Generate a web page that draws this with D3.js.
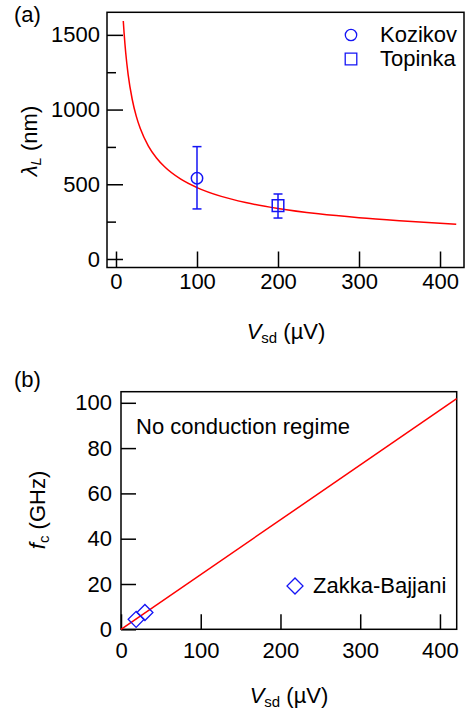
<!DOCTYPE html>
<html>
<head>
<meta charset="utf-8">
<script src="https://cdn.jsdelivr.net/npm/d3@7"></script>
<style>
    body { margin: 0; background: #fff; }
    svg { display: block; font-family: "Liberation Sans", Arial, sans-serif; }
</style>
</head>
<body>
<svg id="chart" width="466" height="712"></svg>
<script>
//
// ***********************************************************************************
//                      DATA
//
// ***********************************************************************************
//

// Shared x ticks (Vsd, µV).
const vsdTicks = [0, 100, 200, 300, 400];

// Panel (a): λL vs Vsd.
const lambdaTicks = [0, 500, 1000, 1500];
const lambdaMinorTicks = [250, 750, 1250];

const fitVsd    = [9, 10, 12, 15, 20, 25, 30, 40, 50, 60, 80, 100, 130, 160, 200, 250, 300, 350, 420];
const fitLambda = [1593, 1512, 1380, 1234, 1069, 956, 873, 756, 676, 617, 534, 478, 419, 378, 338, 302, 276, 256, 233];

const kozikovVsd    = [100];
const kozikovLambda = [540];
const kozikovLow    = [335];
const kozikovHigh   = [752];

const topinkaVsd    = [200];
const topinkaLambda = [357];
const topinkaLow    = [274];
const topinkaHigh   = [435];

// Panel (b): fc vs Vsd.
const freqTicks = [0, 20, 40, 60, 80, 100];

const lineVsd  = [0, 421];
const lineFreq = [0, 101.8];

const zakkaVsd  = [19, 30];
const zakkaFreq = [4.4, 7.4];

//
// ***********************************************************************************
//                      SETUP
//
// ***********************************************************************************
//

const RED = "#ff0000";
const BLUE = "#1515f5";
const FONT = 22;
const SUB = 15;

const svg = d3.select("#chart");

function styleAxis(g) {
    g.select(".domain").remove();
    g.selectAll(".tick line").attr("stroke", "#000").attr("stroke-width", 1.5);
    g.selectAll(".tick text").attr("fill", "#000").attr("font-size", FONT);
}

function frame(x, y) {
    svg.append("rect")
        .attr("x", x.range()[0])
        .attr("y", y.range()[1])
        .attr("width", x.range()[1] - x.range()[0])
        .attr("height", y.range()[0] - y.range()[1])
        .attr("fill", "none")
        .attr("stroke", "#000")
        .attr("stroke-width", 1.5);
}

function xTitle(cx, baseline) {
    const t = svg.append("text")
        .attr("x", cx).attr("y", baseline)
        .attr("text-anchor", "middle")
        .attr("font-size", FONT);
    t.append("tspan").attr("font-style", "italic").text("V");
    t.append("tspan").attr("font-size", SUB).attr("dy", 4).text("sd");
    t.append("tspan").attr("dy", -4).text(" (µV)");
}

//
// ***********************************************************************************
//                      PANEL (a)
//
// ***********************************************************************************
//

const xA = d3.scaleLinear().domain([-11.1, 429.6]).range([107, 464]);
const yA = d3.scaleLinear().domain([-57, 1651]).range([267.5, 12.3]);

svg.append("text").attr("x", 14).attr("y", 22).attr("font-size", FONT).text("(a)");

svg.append("g")
    .attr("transform", `translate(0,${yA.range()[0]})`)
    .call(d3.axisBottom(xA).tickValues(vsdTicks).tickFormat(d3.format("d")).tickSize(-16).tickPadding(6))
    .call(styleAxis);

svg.append("g")
    .attr("transform", `translate(${xA.range()[0]},0)`)
    .call(d3.axisLeft(yA).tickValues(lambdaTicks).tickFormat(d3.format("d")).tickSize(-16).tickPadding(7))
    .call(styleAxis);

svg.append("g")
    .attr("transform", `translate(${xA.range()[0]},0)`)
    .call(d3.axisLeft(yA).tickValues(lambdaMinorTicks).tickFormat("").tickSize(-9))
    .call(styleAxis);

frame(xA, yA);

// Fit curve.
svg.append("path")
    .datum(d3.zip(fitVsd, fitLambda))
    .attr("fill", "none")
    .attr("stroke", RED)
    .attr("stroke-width", 1.5)
    .attr("d", d3.line().x(d => xA(d[0])).y(d => yA(d[1])).curve(d3.curveMonotoneX));

// Error bars + markers.
function errorPoints(vs, vals, lows, highs, symbolType, size, capW) {
    vs.forEach((v, i) => {
        const g = svg.append("g").attr("stroke", BLUE).attr("stroke-width", 1.5).attr("fill", "none");
        g.append("line").attr("x1", xA(v)).attr("x2", xA(v)).attr("y1", yA(lows[i])).attr("y2", yA(highs[i]));
        [lows[i], highs[i]].forEach(e => {
            g.append("line").attr("x1", xA(v) - capW).attr("x2", xA(v) + capW).attr("y1", yA(e)).attr("y2", yA(e));
        });
        g.append("path")
            .attr("transform", `translate(${xA(v)},${yA(vals[i])})`)
            .attr("d", d3.symbol().type(symbolType).size(size)());
    });
}

errorPoints(kozikovVsd, kozikovLambda, kozikovLow, kozikovHigh, d3.symbolCircle, 102, 4.5);
errorPoints(topinkaVsd, topinkaLambda, topinkaLow, topinkaHigh, d3.symbolSquare, 134, 4.5);

// Legend.
const legendA = [
    { label: "Kozikov", type: d3.symbolCircle, size: 102 },
    { label: "Topinka", type: d3.symbolSquare, size: 134 }
];
legendA.forEach((d, i) => {
    svg.append("path")
        .attr("transform", `translate(351,${35 + i * 24})`)
        .attr("d", d3.symbol().type(d.type).size(d.size)())
        .attr("fill", "none").attr("stroke", BLUE).attr("stroke-width", 1.3);
    svg.append("text")
        .attr("x", 380).attr("y", 42 + i * 24)
        .attr("font-size", FONT)
        .text(d.label);
});

// Axis titles.
xTitle(286, 339);

const yTitleA = svg.append("text")
    .attr("transform", "translate(37,141) rotate(-90)")
    .attr("text-anchor", "middle")
    .attr("font-size", FONT);
yTitleA.append("tspan").attr("font-style", "italic").text("λ");
yTitleA.append("tspan").attr("font-style", "italic").attr("font-size", SUB).attr("dy", 4).text("L");
yTitleA.append("tspan").attr("dy", -4).text(" (nm)");

//
// ***********************************************************************************
//                      PANEL (b)
//
// ***********************************************************************************
//

const xB = d3.scaleLinear().domain([0, 421]).range([121, 456.7]);
const yB = d3.scaleLinear().domain([0, 104.9]).range([629.3, 391.7]);

svg.append("text").attr("x", 14).attr("y", 387).attr("font-size", FONT).text("(b)");

svg.append("g")
    .attr("transform", `translate(0,${yB.range()[0]})`)
    .call(d3.axisBottom(xB).tickValues(vsdTicks).tickFormat(d3.format("d")).tickSize(-15).tickPadding(13))
    .call(styleAxis);

svg.append("g")
    .attr("transform", `translate(${xB.range()[0]},0)`)
    .call(d3.axisLeft(yB).tickValues(freqTicks).tickFormat(d3.format("d")).tickSize(-15).tickPadding(9))
    .call(styleAxis);

frame(xB, yB);

svg.append("path")
    .datum(d3.zip(lineVsd, lineFreq))
    .attr("fill", "none")
    .attr("stroke", RED)
    .attr("stroke-width", 1.5)
    .attr("d", d3.line().x(d => xB(d[0])).y(d => yB(d[1])));

const diamond = d3.symbol().type(d3.symbolSquare).size(128)();

svg.append("g")
    .selectAll("path")
    .data(d3.zip(zakkaVsd, zakkaFreq))
    .join("path")
    .attr("transform", d => `translate(${xB(d[0])},${yB(d[1])}) rotate(45)`)
    .attr("d", diamond)
    .attr("fill", "none").attr("stroke", BLUE).attr("stroke-width", 1.3);

// Legend + annotation.
svg.append("path")
    .attr("transform", "translate(295,586) rotate(45)")
    .attr("d", diamond)
    .attr("fill", "none").attr("stroke", BLUE).attr("stroke-width", 1.3);
svg.append("text").attr("x", 313).attr("y", 593).attr("font-size", FONT).text("Zakka-Bajjani");

svg.append("text").attr("x", 136).attr("y", 434).attr("font-size", FONT).text("No conduction regime");

// Axis titles.
xTitle(289, 703);

const yTitleB = svg.append("text")
    .attr("transform", "translate(45,510) rotate(-90)")
    .attr("text-anchor", "middle")
    .attr("font-size", FONT);
yTitleB.append("tspan").attr("font-style", "italic").text("f");
yTitleB.append("tspan").attr("font-size", SUB).attr("dy", 4).text("c");
yTitleB.append("tspan").attr("dy", -4).text(" (GHz)");
</script>
</body>
</html>
